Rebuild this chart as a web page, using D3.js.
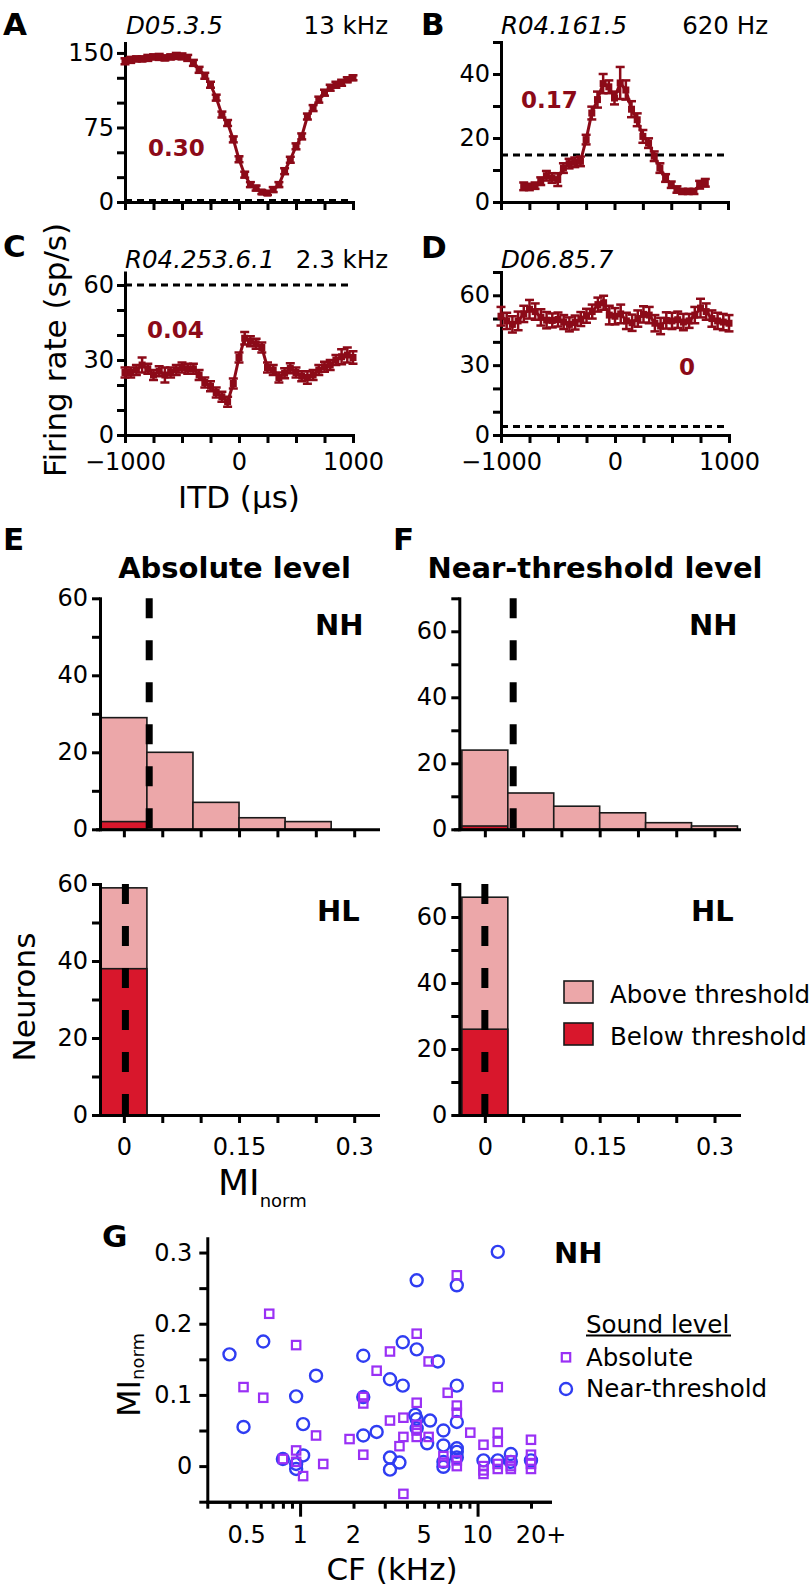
<!DOCTYPE html>
<html><head><meta charset="utf-8">
<script src="https://cdn.jsdelivr.net/npm/d3@7"></script>
<style>body{margin:0;background:#fff}svg{display:block}</style>
</head><body><svg id="fig" width="812" height="1593"></svg>
<script>
// ---------------- DATA ----------------
const itdFull = [-1000,-950,-900,-850,-800,-750,-700,-650,-600,-550,-500,-450,-400,-350,-300,-250,-200,-150,-100,-50,0,50,100,150,200,250,300,350,400,450,500,550,600,650,700,750,800,850,900,950,1000];
const itdB = [-800,-750,-700,-650,-600,-550,-500,-450,-400,-350,-300,-250,-200,-150,-100,-50,0,50,100,150,200,250,300,350,400,450,500,550,600,650,700,750,800];
const itdTicks = [-1000,-750,-500,-250,0,250,500,750,1000];
const itdLabels = [-1000,0,1000];

const rateA = [141.6,143,144,144,145,146,146,145,146,147,146.5,145,140,133,127,118,105,88,79.5,63,43,27.5,17.5,14,10,9,12.5,17.5,31,42.5,56,66,86,94.5,103,110,115,118,120,123,125];
const semA  = [3,3,2.5,2.5,3,2.5,3,2.5,2.5,3,3,3,3,3,3,3,3,3,3,3,3,3,2.5,2.5,2,2,2.5,2.5,3,3,3,3,3,3,3,3,3,3,3,2.5,2.5];
const rateB = [4.9,4.7,5.1,6.5,8.2,7.5,7,10.6,12,12.4,12.7,19.5,27.8,32,37,36,32.5,37.2,35,29,25.7,20.5,18.4,14.3,10.6,7.5,5.4,3.9,3.3,3.3,3.3,5.4,6];
const semB  = [1.2,1,1,1.2,1.5,1.5,2,1.5,1.5,1.5,1.5,1.5,2,2.5,3,2,2,5,3,2.5,2,2,1.5,1.5,1.5,1.2,1,1,0.8,0.8,0.8,1.2,1.2];
const rateC = [25,25,26,28,26.5,24,25.5,24,25,26,27,26.5,26.5,24,21,19.5,17,15.3,13.3,20.6,31,38.7,37.5,36.5,35,27,26,23,24.7,26.7,25,23.5,23,24,26,27.3,28,30,31.3,32,31];
const semC  = [2,2,2,3,2,2,2,3,2,2,2,2,2,2,2,2,2,2,2,2,2,2.5,2,2,2,2,2,2,2,2,2,2,2.5,2,2,2,2,2,3,3,2.5];
const rateD = [51,49,47.5,49,52,54,53,50.5,49.3,49.2,49.6,48.5,47.5,48.3,49.8,51.2,53,56,56.8,51.5,51,52,49,48.2,50,51.8,51.5,48,46.8,49.2,49,49.5,48.5,49,51.5,54.5,53,50,49,48.5,48];
const semD  = [4,3.5,3.5,4,3.5,4,3.5,3.5,3.5,3,3,3,3,3,3,3,3,3,3,4,3.5,4,3.5,3.5,3.5,3.5,3.5,3.5,3.5,3.5,3.5,3.5,3.5,3,3.5,4,3.5,3.5,3.5,3.5,3.5];

const binCenters = [0,0.06,0.12,0.18,0.24,0.30];
const absNHtotal = [29,20,7,3,2,0];
const absNHbelow = [2,0,0,0,0,0];
const absHLtotal = [59,0,0,0,0,0];
const absHLbelow = [38,0,0,0,0,0];
const nearNHtotal = [24,11,7,5,2,1];
const nearNHbelow = [1,0,0,0,0,0];
const nearHLtotal = [66,0,0,0,0,0];
const nearHLbelow = [26,0,0,0,0,0];
const histTicks = [0,0.05,0.1,0.15,0.2,0.25,0.3];
const histLabels = [0,0.15,0.3];

// scatter G: [CF kHz, MInorm]
const absCF = [0.48,0.62,0.67,0.80,0.95,0.95,0.95,1.04,1.23,1.35,1.90,2.27,2.27,2.27,2.70,3.21,3.21,3.63,3.82,3.82,3.82,4.54,4.54,4.54,4.54,4.54,5.3,5.3,6.42,6.42,6.79,7.64,7.64,7.64,7.64,7.64,9.1,10.8,10.8,10.8,10.8,13.0,13.0,13.0,13.0,13.0,15.4,15.4,15.4,20,20,20,20];
const absMI = [0.111,0.096,0.214,0.010,0.170,0.022,0.006,-0.014,0.043,0.003,0.038,0.097,0.088,0.016,0.134,0.161,0.064,0.028,0.068,0.041,-0.039,0.186,0.089,0.058,0.050,0.041,0.147,0.041,0.014,0.005,0.103,0.268,0.085,0.075,0.008,0.000,0.047,0.030,0.000,-0.006,-0.011,0.111,0.047,0.034,0.003,-0.004,0.008,0.000,-0.004,0.037,0.016,0.003,-0.004];
const nearCF = [0.40,0.48,0.62,0.80,0.95,0.95,0.95,1.04,1.04,1.23,2.27,2.27,2.27,2.70,3.21,3.21,3.21,3.63,3.79,3.79,4.54,4.54,4.45,4.54,4.54,5.2,5.4,5.97,6.42,6.42,6.42,6.42,7.64,7.64,7.64,7.64,7.64,7.64,10.8,13.0,13.0,15.4,15.4,20];
const nearMI = [0.157,0.055,0.175,0.010,0.098,0.003,-0.004,0.059,0.015,0.127,0.155,0.097,0.043,0.048,0.122,0.012,-0.005,0.005,0.174,0.113,0.261,0.164,0.072,0.066,0.053,0.032,0.064,0.147,0.050,0.029,0.006,-0.001,0.254,0.113,0.062,0.025,0.020,0.012,0.008,0.301,0.008,0.017,0.006,0.008];
const cfTicksMinor = [0.3,0.4,0.5,0.6,0.7,0.8,0.9,2,3,4,5,6,7,8,9,20];
const cfTicksMajor = [1,10];
const cfLabels = [0.5,1,2,5,10,20];
const miTicks = [-0.05,0,0.05,0.1,0.15,0.2,0.25,0.3];
const miLabels = [0,0.1,0.2,0.3];

// ---------------- DRAW ----------------
const FONT = "DejaVu Sans";
const RED = "#8c0a18";
const PINK = "#eca7a9";
const DRED = "#d8172c";
const svg = d3.select("#fig");

function txt(x, y, s, o = {}) {
  const t = svg.append("text").attr("x", x).attr("y", y).text(s)
    .attr("font-family", FONT).attr("font-size", o.size || 24)
    .attr("text-anchor", o.anchor || "start").attr("fill", o.fill || "#000");
  if (o.bold) t.attr("font-weight", "bold");
  if (o.italic) t.attr("font-style", "italic");
  return t;
}
function styleAxis(g, fs = 24) {
  g.attr("font-family", FONT).attr("font-size", fs);
  g.selectAll("path.domain").attr("stroke", "#000").attr("stroke-width", 3).attr("stroke-linecap", "square");
  g.selectAll(".tick line").attr("stroke", "#000").attr("stroke-width", 3);
  g.selectAll(".tick text").attr("fill", "#000");
}
const fmtNum = d => (d < 0 ? "\u2212" + Math.abs(d) : String(d));

function tuning(p) {
  const x = d3.scaleLinear([-1000, 1000], [p.x0, p.x1]);
  const y = d3.scaleLinear([0, p.ymax], [p.y0, p.ytop]);
  const g = svg.append("g");
  g.append("line").attr("x1", p.x0).attr("x2", p.dashEnd).attr("y1", y(p.spont)).attr("y2", y(p.spont))
    .attr("stroke", "#000").attr("stroke-width", 3).attr("stroke-dasharray", "7,5");
  const xa = g.append("g").attr("transform", `translate(0,${p.y0})`)
    .call(d3.axisBottom(x).tickValues(itdTicks).tickSize(8).tickSizeOuter(0).tickPadding(10)
      .tickFormat(d => p.xlab && itdLabels.includes(d) ? fmtNum(d) : ""));
  styleAxis(xa);
  const ya = g.append("g").attr("transform", `translate(${p.x0},0)`)
    .call(d3.axisLeft(y).tickValues(p.yticks).tickSize(8).tickSizeOuter(0).tickPadding(3)
      .tickFormat(d => p.ylabels.includes(d) ? String(d) : ""));
  styleAxis(ya);
  const pts = p.itd.map((t, i) => ({ t, r: p.rate[i], e: p.sem[i] }));
  g.append("path").datum(pts).attr("fill", "none").attr("stroke", RED).attr("stroke-width", 3)
    .attr("stroke-linejoin", "round")
    .attr("d", d3.line().x(d => x(d.t)).y(d => y(d.r)));
  const eb = g.append("g").attr("stroke", RED).attr("stroke-width", 2.5);
  pts.forEach(d => {
    const cx = x(d.t), y1 = y(d.r + d.e), y2 = y(d.r - d.e);
    eb.append("line").attr("x1", cx).attr("x2", cx).attr("y1", y1).attr("y2", y2);
    eb.append("line").attr("x1", cx - 4.5).attr("x2", cx + 4.5).attr("y1", y1).attr("y2", y1);
    eb.append("line").attr("x1", cx - 4.5).attr("x2", cx + 4.5).attr("y1", y2).attr("y2", y2);
  });
  g.append("g").selectAll("rect").data(pts).join("rect")
    .attr("x", d => x(d.t) - 3.5).attr("y", d => y(d.r) - 3.5).attr("width", 7).attr("height", 7).attr("fill", RED);
}

tuning({ x0: 125, x1: 353, y0: 202, ytop: 43, ymax: 160, yticks: [0,25,50,75,100,125,150], ylabels: [0,75,150],
  spont: 1.5, dashEnd: 353, xlab: false, itd: itdFull, rate: rateA, sem: semA });
tuning({ x0: 501, x1: 728, y0: 202, ytop: 42, ymax: 50, yticks: [0,10,20,30,40,50], ylabels: [0,20,40],
  spont: 14.7, dashEnd: 729, xlab: false, itd: itdB, rate: rateB, sem: semB });
tuning({ x0: 125, x1: 353, y0: 435, ytop: 272.5, ymax: 65, yticks: [0,10,20,30,40,50,60], ylabels: [0,30,60],
  spont: 60, dashEnd: 353, xlab: true, itd: itdFull, rate: rateC, sem: semC });
tuning({ x0: 501, x1: 729, y0: 435, ytop: 272, ymax: 70, yticks: [0,10,20,30,40,50,60,70], ylabels: [0,30,60],
  spont: 3.6, dashEnd: 729, xlab: true, itd: itdFull, rate: rateD, sem: semD });

// headers A-D
txt(3, 35, "A", { size: 31, bold: true });
txt(126, 34, "D05.3.5", { italic: true, size: 24.5 });
txt(388, 34, "13 kHz", { anchor: "end", size: 24.5 });
txt(421, 35, "B", { size: 31, bold: true });
txt(501, 34, "R04.161.5", { italic: true, size: 24.5 });
txt(768, 34, "620 Hz", { anchor: "end", size: 24.5 });
txt(3, 257, "C", { size: 31, bold: true });
txt(125, 268, "R04.253.6.1", { italic: true, size: 24.5 });
txt(388, 268, "2.3 kHz", { anchor: "end", size: 24.5 });
txt(421, 258, "D", { size: 31, bold: true });
txt(501, 268, "D06.85.7", { italic: true, size: 24.5 });
txt(148, 156, "0.30", { fill: RED, bold: true, size: 23 });
txt(521, 108, "0.17", { fill: RED, bold: true, size: 23 });
txt(147, 338, "0.04", { fill: RED, bold: true, size: 23 });
txt(679, 375, "0", { fill: RED, bold: true, size: 23 });
txt(239, 508, "ITD (\u00b5s)", { anchor: "middle", size: 31 });
txt(0, 0, "Firing rate (sp/s)", { anchor: "middle", size: 31 }).attr("transform", "translate(66,350) rotate(-90)");

// ---------------- histograms ----------------
function hist(p) {
  const x = d3.scaleLinear([p.xmin, p.xmax], [p.xa0, p.xa1]);
  const y = d3.scaleLinear([0, p.ymax], [p.y0, p.ytop]);
  const g = svg.append("g");
  binCenters.forEach((c, i) => {
    if (p.total[i] > 0) {
      g.append("rect").attr("x", x(c - 0.03)).attr("width", x(c + 0.03) - x(c - 0.03))
        .attr("y", y(p.total[i])).attr("height", y(0) - y(p.total[i]))
        .attr("fill", PINK).attr("stroke", "#1a1a1a").attr("stroke-width", 1.6);
    }
    if (p.below[i] > 0) {
      g.append("rect").attr("x", x(c - 0.03)).attr("width", x(c + 0.03) - x(c - 0.03))
        .attr("y", y(p.below[i])).attr("height", y(0) - y(p.below[i]))
        .attr("fill", DRED).attr("stroke", "#1a1a1a").attr("stroke-width", 1.6);
    }
  });
  g.append("line").attr("x1", x(p.thr)).attr("x2", x(p.thr)).attr("y1", y(p.ymax)).attr("y2", y(0))
    .attr("stroke", "#000").attr("stroke-width", 7).attr("stroke-dasharray", "20,22");
  const xa = g.append("g").attr("transform", `translate(0,${p.y0})`)
    .call(d3.axisBottom(x).tickValues(histTicks).tickSize(8).tickSizeOuter(0).tickPadding(15)
      .tickFormat(d => p.xlab && histLabels.includes(d) ? String(d) : ""));
  styleAxis(xa);
  const ya = g.append("g").attr("transform", `translate(${p.yax},0)`)
    .call(d3.axisLeft(y).tickValues(p.yticks).tickSize(8).tickSizeOuter(0).tickPadding(4)
      .tickFormat(d => [0,20,40,60].includes(d) ? String(d) : ""));
  styleAxis(ya);
  txt(p.tagX, p.tagY, p.tag, { bold: true, size: 29 });
}
const eX = { xmin: -0.035, xmax: 0.331, xa0: 97, xa1: 378, yax: 100 };
const fX = { xmin: -0.039, xmax: 0.332, xa0: 455, xa1: 739, yax: 459.3 };
hist({ ...eX, y0: 829.3, ytop: 598.3, ymax: 60, yticks: [0,10,20,30,40,50,60], total: absNHtotal, below: absNHbelow, thr: 0.033, xlab: false, tag: "NH", tagX: 315, tagY: 635 });
hist({ ...eX, y0: 1115, ytop: 884, ymax: 60, yticks: [0,10,20,30,40,50,60], total: absHLtotal, below: absHLbelow, thr: 0.002, xlab: true, tag: "HL", tagX: 317, tagY: 921 });
hist({ ...fX, y0: 829.3, ytop: 598.3, ymax: 70, yticks: [0,10,20,30,40,50,60,70], total: nearNHtotal, below: nearNHbelow, thr: 0.037, xlab: false, tag: "NH", tagX: 689, tagY: 635 });
hist({ ...fX, y0: 1115, ytop: 884, ymax: 70, yticks: [0,10,20,30,40,50,60,70], total: nearHLtotal, below: nearHLbelow, thr: 0.0, xlab: true, tag: "HL", tagX: 691, tagY: 921 });

txt(3, 550, "E", { size: 31, bold: true });
txt(393, 550, "F", { size: 31, bold: true });
txt(234.5, 578, "Absolute level", { anchor: "middle", bold: true, size: 29 });
txt(595, 578, "Near-threshold level", { anchor: "middle", bold: true, size: 29 });
txt(0, 0, "Neurons", { anchor: "middle", size: 31 }).attr("transform", "translate(35,997) rotate(-90)");
{
  const t = txt(218, 1195, "MI", { size: 36 });
  t.append("tspan").attr("font-size", 18).attr("dy", 12).text("norm");
}
// legend F
[["Above threshold", PINK, 992], ["Below threshold", DRED, 1034]].forEach(([lab, col, cy]) => {
  svg.append("rect").attr("x", 564).attr("y", cy - 11).attr("width", 29).attr("height", 22)
    .attr("fill", col).attr("stroke", "#1a1a1a").attr("stroke-width", 1.6);
  txt(610, cy + 10.5, lab, { size: 24.5 });
});

// ---------------- scatter G ----------------
{
  const x = d3.scaleLog([0.3, 25.6], [207.3, 550]);
  const y = d3.scaleLinear([-0.05, 0.32], [1501.7, 1238.3]);
  const g = svg.append("g");
  const absPts = absCF.map((c, i) => [c, absMI[i]]);
  const nearPts = nearCF.map((c, i) => [c, nearMI[i]]);
  g.append("g").selectAll("circle").data(nearPts).join("circle")
    .attr("cx", d => x(d[0])).attr("cy", d => y(d[1])).attr("r", 6)
    .attr("fill", "none").attr("stroke", "#2f3df2").attr("stroke-width", 2.4);
  g.append("g").selectAll("rect").data(absPts).join("rect")
    .attr("x", d => x(d[0]) - 4.2).attr("y", d => y(d[1]) - 4.2).attr("width", 8.4).attr("height", 8.4)
    .attr("fill", "none").attr("stroke", "#9a30f5").attr("stroke-width", 2.2);
  const ya = g.append("g").attr("transform", "translate(207.3,0)")
    .call(d3.axisLeft(y).tickValues(miTicks).tickSize(8).tickSizeOuter(0).tickPadding(7)
      .tickFormat(d => miLabels.includes(d) ? String(d) : ""));
  styleAxis(ya);
  const xa = g.append("g").attr("transform", "translate(0,1501.7)")
    .call(d3.axisBottom(x).tickValues(cfTicksMinor).tickSize(7).tickSizeOuter(0).tickFormat(""));
  styleAxis(xa);
  const xb = g.append("g").attr("transform", "translate(0,1501.7)")
    .call(d3.axisBottom(x).tickValues(cfTicksMajor).tickSize(15).tickSizeOuter(0).tickFormat(""));
  styleAxis(xb);
  cfLabels.forEach(c => {
    if (c === 20) txt(x(c) + 10, 1542.5, "20+", { anchor: "middle", size: 24 });
    else txt(x(c), 1542.5, String(c), { anchor: "middle", size: 24 });
  });
  txt(102, 1247, "G", { size: 31, bold: true });
  txt(554, 1263, "NH", { size: 29, bold: true });
  txt(392, 1580, "CF (kHz)", { anchor: "middle", size: 31 });
  const t = txt(0, 0, "MI", { anchor: "middle", size: 32 }).attr("transform", "translate(140,1375) rotate(-90)");
  t.append("tspan").attr("font-size", 18).attr("dy", 4).text("norm");
  // legend
  txt(586, 1332.7, "Sound level", { size: 24.5 });
  svg.append("line").attr("x1", 586).attr("x2", 731).attr("y1", 1335.5).attr("y2", 1335.5).attr("stroke", "#000").attr("stroke-width", 1.8);
  svg.append("rect").attr("x", 566 - 4.2).attr("y", 1357.3 - 4.2).attr("width", 8.4).attr("height", 8.4)
    .attr("fill", "none").attr("stroke", "#9a30f5").attr("stroke-width", 2.2);
  txt(586, 1365.7, "Absolute", { size: 24.5 });
  svg.append("circle").attr("cx", 566).attr("cy", 1389).attr("r", 6)
    .attr("fill", "none").attr("stroke", "#2f3df2").attr("stroke-width", 2.4);
  txt(586, 1397.3, "Near-threshold", { size: 24.5 });
}
</script></body></html>
